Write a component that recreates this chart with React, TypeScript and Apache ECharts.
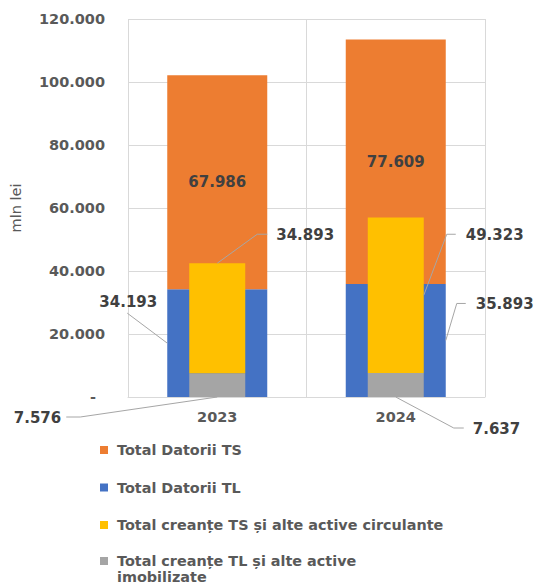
import React, { useEffect, useRef } from "react";
import * as echarts from "echarts";

const categories = ["2023", "2024"];
const datoriiTS = [67986, 77609];
const datoriiTL = [34193, 35893];
const creanteTS = [34893, 49323];
const creanteTL = [7576, 7637];
const yMin = 0;
const yMax = 120000;
const yInterval = 20000;

const NAME_DTS = "Total Datorii TS";
const NAME_DTL = "Total Datorii TL";
const NAME_CTS = "Total creanțe TS și alte active circulante";
const NAME_CTL = "Total creanțe TL și alte active imobilizate";

const C_ORANGE = "#ED7D31";
const C_BLUE = "#4472C4";
const C_YELLOW = "#FFC000";
const C_GRAY = "#A5A5A5";
const FONT = "DejaVu Sans";
const WIDE = 100;
const NARROW = 56;

const fmt = (v: number) =>
  String(Math.round(v)).replace(/\B(?=(\d{3})+(?!\d))/g, ".");

export default function App() {
  const ref = useRef<HTMLDivElement>(null);
  useEffect(() => {
    if (!ref.current) return;
    const chart = echarts.init(ref.current, null, { renderer: "svg" });
    const labelStyle = { fontFamily: FONT, fontWeight: "bold", fontSize: 15, color: "#404040" };
    const legendText = { fontFamily: FONT, fontWeight: "bold", fontSize: 14.4, color: "#595959", lineHeight: 17 };
    chart.setOption({
      animation: false,
      textStyle: { fontFamily: FONT },
      grid: { left: 128, right: 49, top: 19, bottom: 189 },
      legend: [
        {
          orient: "vertical",
          left: 100,
          top: 441.5,
          padding: 0,
          itemGap: 20.5,
          itemWidth: 8,
          itemHeight: 8,
          icon: "rect",
          data: [NAME_DTS, NAME_DTL, NAME_CTS],
          textStyle: { ...legendText, padding: [0, 0, 0, 4] },
        },
        {
          orient: "vertical",
          left: 100,
          top: 537,
          padding: 0,
          itemWidth: 8,
          itemHeight: 8,
          icon: "rect",
          data: [NAME_CTL],
          formatter: (n: string) => " \n" + n.replace(" imobilizate", "\nimobilizate"),
          textStyle: { ...legendText, lineHeight: 16, padding: [0, 0, 0, 4] },
        },
      ],
      xAxis: [
        {
          type: "category",
          data: categories,
          axisLine: { lineStyle: { color: "#d9d9d9" } },
          axisTick: { show: false },
          splitLine: { show: true, lineStyle: { color: "#d9d9d9", width: 1 } },
          axisLabel: { fontFamily: FONT, fontWeight: "bold", fontSize: 14.5, color: "#595959", margin: 12.5 },
        },
        { type: "category", data: categories, show: false },
      ],
      yAxis: {
        type: "value",
        min: yMin,
        max: yMax,
        interval: yInterval,
        name: "mln lei",
        nameLocation: "middle",
        nameRotate: 90,
        nameGap: 105,
        nameTextStyle: { fontFamily: FONT, fontSize: 14.5, color: "#595959" },
        axisLine: { show: false },
        axisTick: { show: false },
        splitLine: { lineStyle: { color: "#d9d9d9", width: 1 } },
        axisLabel: {
          margin: 23,
          fontFamily: FONT,
          fontWeight: "bold",
          fontSize: 14.5,
          color: "#595959",
          formatter: (v: number) => (v === 0 ? "{d|-}" : fmt(v)),
          rich: { d: { fontFamily: FONT, fontWeight: "bold", fontSize: 14.5, color: "#595959", padding: [0, 9, 0, 0] } },
        },
      },
      series: [
        { name: NAME_DTL, type: "bar", xAxisIndex: 0, stack: "d", barWidth: WIDE, itemStyle: { color: C_BLUE }, data: datoriiTL },
        {
          name: NAME_DTS,
          type: "bar",
          xAxisIndex: 0,
          stack: "d",
          barWidth: WIDE,
          itemStyle: { color: C_ORANGE },
          label: { show: true, position: "inside", ...labelStyle, formatter: (p: any) => fmt(p.value) },
          data: datoriiTS,
        },
        { name: NAME_CTL, type: "bar", xAxisIndex: 1, stack: "c", barWidth: NARROW, itemStyle: { color: C_GRAY }, data: creanteTL },
        { name: NAME_CTS, type: "bar", xAxisIndex: 1, stack: "c", barWidth: NARROW, itemStyle: { color: C_YELLOW }, data: creanteTS },
      ],
    });

    const px = (i: number, v: number) =>
      chart.convertToPixel({ xAxisIndex: 0, yAxisIndex: 0 }, [i, v]) as number[];

    type Spec = {
      value: number;
      anchor: number[];
      pts: number[][];
      align: "left" | "right" | "center";
      vAlign: "middle" | "bottom";
      tdx: number;
      tdy: number;
    };
    const specs: Spec[] = [];
    // 2023
    {
      const i = 0;
      const c0 = px(i, 0);
      const cx = c0[0];
      const aTL = [cx - WIDE / 2, px(i, datoriiTL[i] / 2)[1]];
      specs.push({ value: datoriiTL[i], anchor: aTL, pts: [[-40, -30]], align: "center", vAlign: "bottom", tdx: 1, tdy: -4 });
      const aCTS = [cx, px(i, creanteTL[i] + creanteTS[i])[1]];
      specs.push({ value: creanteTS[i], anchor: aCTS, pts: [[40, -29], [50, -29]], align: "left", vAlign: "middle", tdx: 9, tdy: 1 });
      const aCTL = [cx, c0[1]];
      specs.push({ value: creanteTL[i], anchor: aCTL, pts: [[-137, 20], [-151, 20]], align: "right", vAlign: "middle", tdx: -5, tdy: 1 });
    }
    // 2024
    {
      const i = 1;
      const c0 = px(i, 0);
      const cx = c0[0];
      const aCTS = [cx + NARROW / 2, px(i, creanteTL[i] + creanteTS[i] / 2)[1]];
      specs.push({ value: creanteTS[i], anchor: aCTS, pts: [[23, -61], [32, -61]], align: "left", vAlign: "middle", tdx: 10, tdy: 1 });
      const aTL = [cx + WIDE / 2, px(i, datoriiTL[i] / 2)[1]];
      specs.push({ value: datoriiTL[i], anchor: aTL, pts: [[11, -37], [20, -37]], align: "left", vAlign: "middle", tdx: 10, tdy: 1 });
      const aCTL = [cx, c0[1]];
      specs.push({ value: creanteTL[i], anchor: aCTL, pts: [[58, 31], [68, 31]], align: "left", vAlign: "middle", tdx: 9, tdy: 1 });
    }

    const graphic: any[] = [];
    specs.forEach((s) => {
      const points = [s.anchor, ...s.pts.map((p) => [s.anchor[0] + p[0], s.anchor[1] + p[1]])];
      const end = points[points.length - 1];
      graphic.push({
        type: "polyline",
        silent: true,
        shape: { points },
        style: { stroke: "#a6a6a6", lineWidth: 1, fill: null },
        z: 10,
      });
      graphic.push({
        type: "text",
        silent: true,
        x: end[0] + s.tdx,
        y: end[1] + s.tdy,
        style: {
          text: fmt(s.value),
          fontFamily: FONT,
          fontWeight: "bold",
          fontSize: 15,
          fill: "#404040",
          align: s.align,
          verticalAlign: s.vAlign,
        },
        z: 10,
      });
    });
    chart.setOption({ graphic });

    return () => chart.dispose();
  }, []);
  return (
    <div
      ref={ref}
      style={{ position: "fixed", left: 0, top: 0, width: 534, height: 586, background: "#fff" }}
    />
  );
}
